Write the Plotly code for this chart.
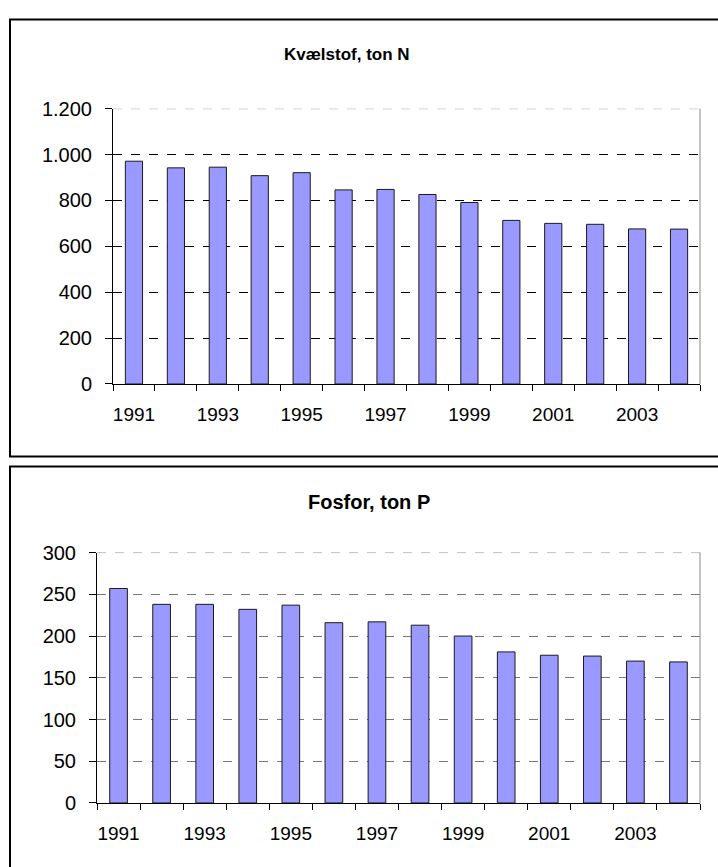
import plotly.graph_objs as go

years = [str(y) for y in range(1991, 2005)]
year_labels = [y if int(y) % 2 == 1 else "" for y in years]

nitrogen = [971, 942, 945, 908, 921, 846, 848, 826, 791, 713, 700, 696, 676, 675]
phosphorus = [257, 238, 238, 232, 237, 216, 217, 213, 200, 181, 177, 176, 170, 169]

W, H = 718, 867


def px(x):
    return x / W


def py(y):
    # screen y (pixels from top) -> paper fraction, with a small correction
    # for the vertical offset/scale seen in the rendered page
    return 1 - ((y - 9.4) / 0.977) / H


fig = go.Figure()
fig.add_trace(go.Bar(x=years, y=nitrogen, xaxis="x", yaxis="y", width=0.41,
                     marker=dict(color="#9999FF", line=dict(color="#1a1a1a", width=1))))
fig.add_trace(go.Bar(x=years, y=phosphorus, xaxis="x2", yaxis="y2", width=0.41,
                     marker=dict(color="#9999FF", line=dict(color="#1a1a1a", width=1))))

tickfont = dict(family="Liberation Sans, Arial", size=19, color="#000000")
ytickfont = dict(family="Liberation Sans, Arial", size=20, color="#000000")

xcommon = dict(type="category", tickvals=years, ticktext=year_labels, tickson="boundaries",
               ticks="outside", ticklen=6, tickcolor="#000", showline=True, linecolor="#000",
               linewidth=1, showgrid=False, tickfont=tickfont, tickangle=0,
               ticklabelstandoff=13, fixedrange=True)
ycommon = dict(ticks="outside", ticklen=7, tickcolor="#000", showline=True, linecolor="#000",
               linewidth=1, showgrid=True, griddash="dash", zeroline=False, tickfont=ytickfont,
               ticklabelstandoff=9, separatethousands=True, tickformat=",d")

fig.update_layout(
    width=W, height=H, margin=dict(l=0, r=0, t=0, b=0),
    paper_bgcolor="white", plot_bgcolor="white", showlegend=False,
    separators=",.",
    xaxis=dict(domain=[px(113), px(700)], anchor="y", **xcommon),
    yaxis=dict(domain=[py(383.3), py(107.3)], anchor="x", range=[0, 1200], dtick=200,
               gridcolor="#000000", **ycommon),
    xaxis2=dict(domain=[px(97), px(700)], anchor="y2", **xcommon),
    yaxis2=dict(domain=[py(803.3), py(552.3)], anchor="x2", range=[0, 300], dtick=50,
                gridcolor="#777777", **ycommon),
)

fig.add_annotation(text="<b>Kvælstof, ton N</b>", xref="paper", yref="paper",
                   x=px(347), y=py(53), yanchor="middle", showarrow=False,
                   font=dict(family="Liberation Sans, Arial", size=17, color="#000"))
fig.add_annotation(text="<b>Fosfor, ton P</b>", xref="paper", yref="paper",
                   x=px(369), y=py(502), yanchor="middle", showarrow=False,
                   font=dict(family="Liberation Sans, Arial", size=20, color="#000"))

# top gridline of each plot area (grey dashes)
fig.add_shape(type="line", xref="x domain", yref="y", x0=0, x1=1, y0=1200, y1=1200,
              line=dict(color="#888", width=1, dash="dash"))
fig.add_shape(type="line", xref="x2 domain", yref="y2", x0=0, x1=1, y0=300, y1=300,
              line=dict(color="#888", width=1, dash="dash"))

# grey right edge of plot areas
fig.add_shape(type="line", xref="x domain", yref="y domain", x0=1, x1=1, y0=0, y1=1,
              line=dict(color="#888", width=1))
fig.add_shape(type="line", xref="x2 domain", yref="y2 domain", x0=1, x1=1, y0=0, y1=1,
              line=dict(color="#888", width=1))

# panel frames
fig.add_shape(type="rect", xref="paper", yref="paper", x0=px(10), x1=px(730),
              y0=py(456), y1=py(18), line=dict(color="#000", width=2))
fig.add_shape(type="rect", xref="paper", yref="paper", x0=px(10), x1=px(730),
              y0=py(900), y1=py(466), line=dict(color="#000", width=2))

fig.write_html(
    "out.html",
    config={"displayModeBar": False},
    post_script="document.body.style.margin='0';document.body.style.overflow='hidden';",
)
